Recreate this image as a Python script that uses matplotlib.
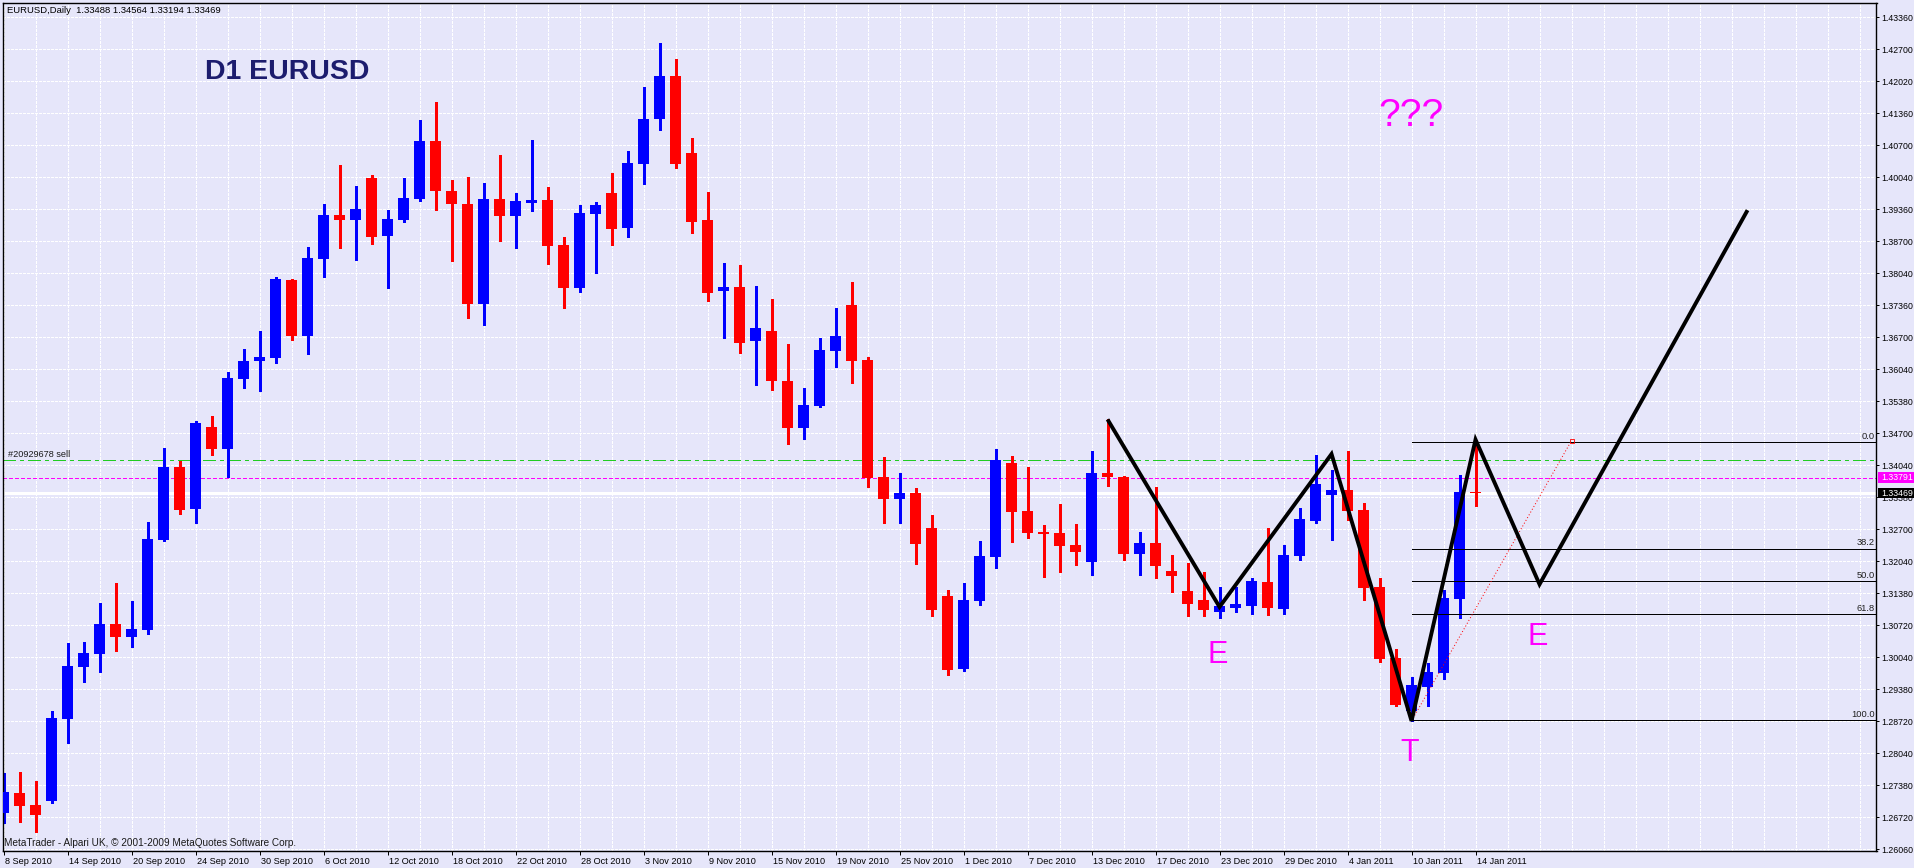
import matplotlib
matplotlib.use('Agg')
import matplotlib.pyplot as plt
import matplotlib.transforms as mtransforms
from matplotlib.patches import Rectangle
import numpy as np

# ---------------- data ----------------
date_labels = ['8 Sep 2010', '14 Sep 2010', '20 Sep 2010', '24 Sep 2010', '30 Sep 2010',
               '6 Oct 2010', '12 Oct 2010', '18 Oct 2010', '22 Oct 2010', '28 Oct 2010',
               '3 Nov 2010', '9 Nov 2010', '15 Nov 2010', '19 Nov 2010', '25 Nov 2010',
               '1 Dec 2010', '7 Dec 2010', '13 Dec 2010', '17 Dec 2010', '23 Dec 2010',
               '29 Dec 2010', '4 Jan 2011', '10 Jan 2011', '14 Jan 2011']

opens = [1.2682, 1.2723, 1.2698, 1.2707, 1.2876, 1.2985, 1.3013, 1.3075, 1.3048, 1.3063,
         1.3250, 1.3401, 1.3313, 1.3485, 1.3438, 1.3584, 1.3622, 1.3628, 1.3790, 1.3673,
         1.3834, 1.3925, 1.3915, 1.4002, 1.3881, 1.3915, 1.3958, 1.4079, 1.3975, 1.3948,
         1.3740, 1.3958, 1.3923, 1.3950, 1.3956, 1.3863, 1.3773, 1.3927, 1.3971, 1.3897,
         1.4030, 1.4124, 1.4214, 1.4054, 1.3914, 1.3766, 1.3776, 1.3662, 1.3684, 1.3580,
         1.3483, 1.3528, 1.3643, 1.3738, 1.3624, 1.3380, 1.3335, 1.3347, 1.3274, 1.3133,
         1.2981, 1.3122, 1.3214, 1.3409, 1.3310, 1.3266, 1.3264, 1.3239, 1.3203, 1.3389,
         1.3380, 1.3220, 1.3243, 1.3185, 1.3143, 1.3124, 1.3099, 1.3108, 1.3112, 1.3162,
         1.3106, 1.3216, 1.3289, 1.3343, 1.3353, 1.3312, 1.3151, 1.3004, 1.2894, 1.2944,
         1.2973, 1.3127, 1.33488]
highs = [1.2765, 1.2767, 1.2748, 1.2894, 1.3035, 1.3037, 1.3118, 1.3160, 1.3122, 1.3287,
         1.3441, 1.3413, 1.3497, 1.3507, 1.3598, 1.3647, 1.3684, 1.3796, 1.3792, 1.3858,
         1.3948, 1.4029, 1.3985, 1.4008, 1.3935, 1.4002, 1.4123, 1.4160, 1.3998, 1.4004,
         1.3992, 1.4050, 1.3971, 1.4081, 1.3983, 1.3879, 1.3946, 1.3952, 1.4012, 1.4058,
         1.4191, 1.4282, 1.4250, 1.4085, 1.3973, 1.3825, 1.3821, 1.3778, 1.3751, 1.3657,
         1.3565, 1.3669, 1.3732, 1.3785, 1.3630, 1.3422, 1.3389, 1.3357, 1.3301, 1.3145,
         1.3160, 1.3247, 1.3438, 1.3424, 1.3401, 1.3280, 1.3324, 1.3282, 1.3434, 1.3500,
         1.3382, 1.3266, 1.3359, 1.3218, 1.3201, 1.3183, 1.3151, 1.3151, 1.3170, 1.3274,
         1.3239, 1.3316, 1.3426, 1.3395, 1.3434, 1.3326, 1.3170, 1.3023, 1.2964, 1.2993,
         1.3145, 1.3384, 1.34564]
lows = [1.2660, 1.2663, 1.2642, 1.2703, 1.2828, 1.2954, 1.2975, 1.3019, 1.3027, 1.3054,
        1.3247, 1.3304, 1.3285, 1.3425, 1.3380, 1.3565, 1.3558, 1.3618, 1.3666, 1.3636,
        1.3796, 1.3856, 1.3831, 1.3865, 1.3773, 1.3910, 1.3954, 1.3935, 1.3829, 1.3711,
        1.3696, 1.3871, 1.3856, 1.3933, 1.3823, 1.3732, 1.3765, 1.3804, 1.3863, 1.3880,
        1.3990, 1.4101, 1.4023, 1.3887, 1.3747, 1.3670, 1.3637, 1.3572, 1.3562, 1.3448,
        1.3460, 1.3526, 1.3608, 1.3576, 1.3360, 1.3284, 1.3285, 1.3200, 1.3091, 1.2968,
        1.2977, 1.3114, 1.3191, 1.3245, 1.3253, 1.3172, 1.3183, 1.3197, 1.3176, 1.3362,
        1.3208, 1.3176, 1.3170, 1.3141, 1.3091, 1.3091, 1.3087, 1.3099, 1.3095, 1.3093,
        1.3095, 1.3208, 1.3285, 1.3249, 1.3291, 1.3124, 1.2996, 1.2904, 1.2873, 1.2904,
        1.2961, 1.3088, 1.33194]
closes = [1.2725, 1.2697, 1.2677, 1.2879, 1.2987, 1.3014, 1.3075, 1.3048, 1.3064, 1.3251,
          1.3401, 1.3312, 1.3493, 1.3438, 1.3586, 1.3621, 1.3630, 1.3792, 1.3673, 1.3836,
          1.3925, 1.3915, 1.3937, 1.3879, 1.3917, 1.3960, 1.4079, 1.3975, 1.3948, 1.3740,
          1.3958, 1.3923, 1.3954, 1.3956, 1.3861, 1.3773, 1.3929, 1.3946, 1.3896, 1.4033,
          1.4125, 1.4214, 1.4032, 1.3911, 1.3763, 1.3776, 1.3659, 1.3690, 1.3579, 1.3483,
          1.3530, 1.3645, 1.3673, 1.3622, 1.3379, 1.3335, 1.3347, 1.3240, 1.3104, 1.2979,
          1.3124, 1.3216, 1.3416, 1.3307, 1.3264, 1.3262, 1.3237, 1.3224, 1.3389, 1.3380,
          1.3220, 1.3243, 1.3195, 1.3174, 1.3116, 1.3104, 1.3112, 1.3116, 1.3164, 1.3108,
          1.3218, 1.3293, 1.3366, 1.3353, 1.3310, 1.3150, 1.3002, 1.2907, 1.2948, 1.2975,
          1.3129, 1.3349, 1.33469]

price_labels = ['1.26060', '1.26720', '1.27380', '1.28040', '1.28720', '1.29380', '1.30040',
                '1.30720', '1.31380', '1.32040', '1.32700', '1.33380', '1.34040', '1.34700',
                '1.35380', '1.36040', '1.36700', '1.37360', '1.38040', '1.38700', '1.39360',
                '1.40040', '1.40700', '1.41360', '1.42020', '1.42700', '1.43360']

zigzag_bar = [69, 76, 83, 88, 92, 96, 109]
zigzag_price = [1.3500, 1.3110, 1.3428, 1.2873, 1.3458, 1.3157, 1.3935]

fib_levels = [0.0, 38.2, 50.0, 61.8, 100.0]
fib_high = 1.3452
fib_low = 1.2874
fib_start_bar = 88

trend_bar = [88, 98]
trend_price = [1.2873, 1.3456]

sell_price = 1.3415
ask_price = 1.33791
bid_price = 1.33469
header_text = 'EURUSD,Daily  1.33488 1.34564 1.33194 1.33469'

# ---------------- figure ----------------
W, H = 1914, 868
BG = '#E6E6FA'
fig = plt.figure(figsize=(W / 100, H / 100), dpi=100, facecolor=BG)
left_px, right_px, top_px, bot_px = 2.5, 1876.5, 2.7, 851.0
ax = fig.add_axes([left_px / W, (H - bot_px) / H, (right_px - left_px) / W, (bot_px - top_px) / H])
ax.set_facecolor(BG)

n = len(opens)
bars = np.arange(n)
ax.set_xlim(-0.0625, 117.06)
ax.set_ylim(1.26025, 1.43664)

PX = 0.72  # one pixel in points
AFONT = 'Liberation Sans'

# grid
grid_vals = np.linspace(float(price_labels[0]), float(price_labels[-1]), len(price_labels))
for v in grid_vals:
    ax.axhline(v, color='white', lw=PX, dashes=(2.2, 1.5), zorder=0.5, antialiased=False)
for xv in np.arange(0, 118, 2):
    ax.axvline(xv, color='white', lw=PX, dashes=(2.2, 1.5), zorder=0.5, antialiased=False)

# horizontal order / price lines
ax.axhline(sell_price, color='#22CC22', lw=1.4 * PX, dashes=(9, 3, 2.2, 3), zorder=1.5,
           antialiased=False)
ax.axhline(ask_price, color='#FF00FF', lw=1.4 * PX, dashes=(2.5, 2), zorder=1.5,
           antialiased=False)
ax.axhline(bid_price, color='white', lw=1.4 * PX, zorder=1.5, antialiased=False)

# candles
body_w = 11 / 16
for i in range(n):
    o, h, l, c = opens[i], highs[i], lows[i], closes[i]
    col = '#0000FF' if c >= o else '#FF0000'
    ax.vlines(bars[i], l, h, color=col, lw=1.3 * PX, zorder=2, antialiased=False)
    lo, hi = min(o, c), max(o, c)
    hgt = max(hi - lo, 0.00025)
    ax.bar(bars[i], hgt, bottom=lo, width=body_w, color=col, linewidth=0, zorder=3,
           antialiased=False)

# fibonacci
for lev in fib_levels:
    val = fib_high - (fib_high - fib_low) * lev / 100.0
    ax.hlines(val, fib_start_bar, 117.06, color='black', lw=PX, zorder=4,
              antialiased=False)
    ax.annotate(f'{lev:.1f}', xy=(1.0, val), xycoords=('axes fraction', 'data'),
                xytext=(-1.2, 1.2), textcoords='offset points', ha='right', va='bottom',
                fontsize=6.7, family=AFONT, color='#202020', zorder=6)
ax.plot(trend_bar, trend_price, color='red', lw=PX, dashes=(1, 2.2), zorder=4)
ax.plot(trend_bar[-1], trend_price[-1], marker='s', ms=3, mfc='none', mec='red', mew=0.6, zorder=4)

# zigzag
ax.plot(zigzag_bar, zigzag_price, color='black', lw=2.8, zorder=5, solid_joinstyle='miter',
        solid_capstyle='butt')

# annotations
ax.text((287 - 2.5) / 1874, 1 - (72 - 2.7) / 848.3, 'D1 EURUSD', transform=ax.transAxes,
        ha='center', va='center', fontsize=20.5, fontweight='bold', color='#1C1C6E',
        family=AFONT, zorder=6)
ax.text((1411 - 2.5) / 1874, 1 - (116 - 2.7) / 848.3, '???', transform=ax.transAxes,
        ha='center', va='center', fontsize=28, color='#FF00FF', family=AFONT, zorder=6)
ax.text((1218 - 2.5) / 1874, 1 - (655 - 2.7) / 848.3, 'E', transform=ax.transAxes,
        ha='center', va='center', fontsize=22, color='#FF00FF', family=AFONT, zorder=6)
ax.text((1538 - 2.5) / 1874, 1 - (637 - 2.7) / 848.3, 'E', transform=ax.transAxes,
        ha='center', va='center', fontsize=22, color='#FF00FF', family=AFONT, zorder=6)
ax.text((1410 - 2.5) / 1874, 1 - (753 - 2.7) / 848.3, 'T', transform=ax.transAxes,
        ha='center', va='center', fontsize=22, color='#FF00FF', family=AFONT, zorder=6)

ax.annotate('#20929678 sell', xy=(0, sell_price), xycoords=('axes fraction', 'data'),
            xytext=(4, 1.2), textcoords='offset points', ha='left', va='bottom',
            fontsize=6.6, family=AFONT, color='#1a1a1a', zorder=6)
ax.text(1.5 / 1874, 1 - (843 - 2.7) / 848.3,
        'MetaTrader - Alpari UK, \u00a9 2001-2009 MetaQuotes Software Corp.',
        transform=ax.transAxes, ha='left', va='center', fontsize=7.2, family=AFONT,
        color='#1a1a1a', zorder=6)
fig.text(7 / W, 1 - 10.5 / H, header_text, ha='left', va='center', fontsize=6.8,
         family=AFONT, color='black')

# axes / ticks
for s in ['left', 'right', 'top', 'bottom']:
    ax.spines[s].set_color('black')
    ax.spines[s].set_linewidth(1.4 * PX)

ax.yaxis.tick_right()
ax.set_yticks(grid_vals)
ax.set_yticklabels(price_labels, fontsize=6.3, family=AFONT, color='black')
ax.tick_params(axis='y', which='both', length=2.2, width=PX, pad=1.0, direction='out')

xt = np.arange(0, n, 4)
ax.set_xticks(xt)
ax.set_xticklabels(date_labels, fontsize=6.6, family=AFONT, color='black', ha='left')
ax.tick_params(axis='x', length=3, width=PX, pad=1.5, direction='out')
off = mtransforms.ScaledTranslation(1.5 / 100, 0, fig.dpi_scale_trans)
for lab in ax.get_xticklabels():
    lab.set_transform(lab.get_transform() + off)

# price boxes on the axis
trans = mtransforms.blended_transform_factory(fig.transFigure, ax.transData)
box_h = 0.0021
for val, fc in [(ask_price, '#FF00FF'), (bid_price, 'black')]:
    ax.add_patch(Rectangle((1877.5 / W, val - box_h / 2), (W - 1877.5) / W, box_h,
                           transform=trans, fc=fc, ec='none', clip_on=False, zorder=9))
    ax.text(1881 / W, val, f'{val:.5f}', transform=trans, ha='left', va='center',
            fontsize=6.3, family=AFONT, color='white', zorder=10, clip_on=False)

fig.savefig('out.png', dpi=100, facecolor=BG)
